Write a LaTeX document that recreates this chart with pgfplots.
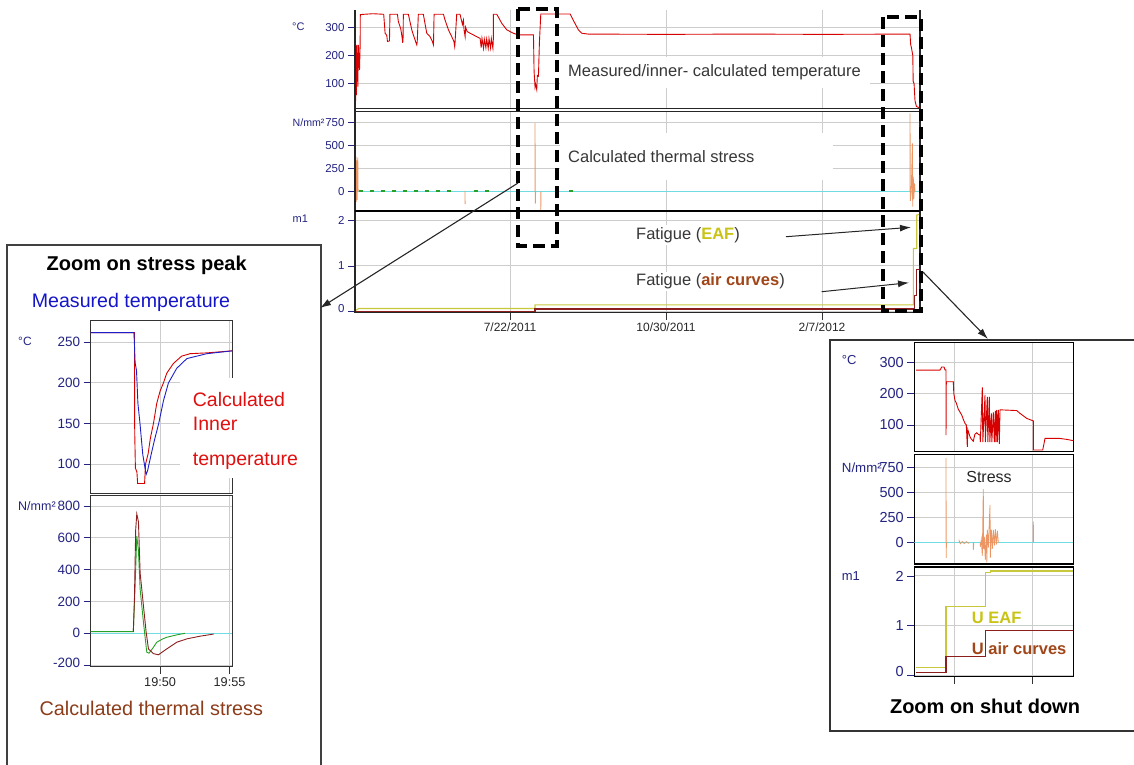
\documentclass[border=0pt]{standalone}
\usepackage{fontspec}
\setmainfont{Liberation Sans}
\usepackage{pgfplots}
\pgfplotsset{compat=1.18}
\usetikzlibrary{arrows.meta}

\definecolor{navy}{RGB}{35,35,130}
\definecolor{tred}{RGB}{215,0,0}
\definecolor{sorange}{RGB}{235,150,100}
\definecolor{scyan}{RGB}{110,220,225}
\definecolor{sgreen}{RGB}{40,160,40}
\definecolor{eaf}{RGB}{200,200,60}
\definecolor{eaftxt}{RGB}{200,195,20}
\definecolor{air}{RGB}{140,30,30}
\definecolor{airtxt}{RGB}{160,70,25}
\definecolor{stresstxt}{RGB}{140,60,25}
\definecolor{blueline}{RGB}{30,30,200}
\definecolor{bluetxt}{RGB}{20,20,200}
\definecolor{redtxt}{RGB}{225,15,15}
\definecolor{gridc}{RGB}{205,205,205}
\definecolor{annot}{RGB}{55,55,55}

\newcommand\fsz[1]{\fontsize{#1}{#1}\selectfont}

\pgfplotsset{
  panel/.style={
    scale only axis, anchor=north west,
    grid=major, major grid style={draw=gridc, line width=0.9pt},
    tick align=outside, major tick length=6pt,
    ytick pos=left, xtick pos=bottom,
    tick style={draw=navy, line width=0.8pt},
    /pgf/number format/assume math mode=true,
    y tick label style={text=navy},
    x tick label style={text=black!85},
    axis line style={line width=1.2pt},
    unbounded coords=jump,
  },
  mainpanel/.style={panel, width=565pt, xmin=-99.4, xmax=262.8,
    xtick={0,100,200}, axis line style={draw=none},
    y tick label style={font=\fsz{11.5}}, major tick length=7pt},
  leftpanel/.style={panel, width=141.6pt, xmin=45, xmax=55.2,
    xtick={50,55}, axis line style={draw=black!80, line width=1pt},
    y tick label style={font=\fsz{13.5}}, major tick length=7pt},
  rightpanel/.style={panel, width=159pt, xmin=0, xmax=159,
    xtick={40,118}, axis line style={draw=black, line width=1.1pt},
    y tick label style={font=\fsz{14.5}}, major tick length=7pt},
}

\begin{document}
\begin{tikzpicture}
\useasboundingbox (0,0) rectangle (1134pt,-764pt);
\clip (0,0) rectangle (1134pt,-764pt);

% zoom frames
\draw[draw=black!75, line width=1.3pt] (7pt,-245pt) rectangle (321pt,-775pt);
\draw[draw=black!80, line width=1.3pt] (830pt,-340pt) rectangle (1145pt,-731pt);

% ---------- main chart: temperature
\begin{axis}[mainpanel, at={(355pt,-10pt)}, height=98.7pt,
  ymin=12.3, ymax=361.1, ytick={100,200,300},
  xticklabels={}, xtick style={draw=none}]
\addplot[tred, line width=0.9pt] coordinates {
 (-99.4,22)(-99.2,230)(-99.0,40)(-98.8,235)(-98.5,60)(-98.2,238)(-97.6,90)(-97.2,238)
 (-96.5,150)(-96.1,238)(-96,345)(-88,348)(-81,346)(-80.1,279)(-79.5,275)(-79,270)
 (-78.6,250)(-77.3,252)(-77,346)(-72.2,346)(-71.6,320)(-70.1,295)(-69.5,275)(-69,255)
 (-68.8,245)(-68.6,262)(-68.4,346)(-65.2,346)(-63,291)(-62,273)(-60.9,256)(-60.3,245)
 (-59.8,238)(-59.5,250)(-58.8,346)(-55.6,346)(-53.4,279)(-51.3,267)(-49.8,250)(-49.1,238)
 (-48.7,346)(-42.7,346)(-41.7,326)(-39.5,291)(-37.4,267)(-36,250)(-35.5,232)(-35.3,244)
 (-34.2,346)(-32.1,346)(-30.5,310)(-29.9,325)(-29.5,291)(-28.8,267)(-28.5,300)(-27.5,285)
 (-25.6,279)(-21.4,267)(-19.2,261)(-18.5,228)(-18,261)(-17,226)(-16.5,258)(-15.5,228)
 (-15,258)(-14,226)(-13.5,260)(-12.5,227)(-12,260)(-11,226)(-10.7,261)(-10.7,346)
 (-8.5,346)(-5.3,314)(-2.1,291)(2.1,279)(5.3,273)(15,273)(15.4,144)(16,90)(16.3,100)
 (17.1,80)(17.5,130)(18.2,127)(18.8,244)(19.7,347)(38.5,347)(41,320)(43.8,291)(46,279)
 (50,276)(100,275)(150,276)(200,275)(256.4,276)(256.8,240)(257.4,225)(258.2,200)
 (258.4,110)(259,100)(259.6,40)(260.5,20)(262.8,15)};
\end{axis}

% ---------- main chart: stress
\begin{axis}[mainpanel, at={(355pt,-110.8pt)}, height=100.5pt,
  ymin=-213, ymax=879, ytick={0,250,500,750},
  xticklabels={}, xtick style={draw=none}]
\addplot[scyan, line width=1.4pt] coordinates {(-99.4,0)(262.8,0)};
\addplot[sgreen, line width=1.2pt, dash pattern=on 4pt off 7pt] coordinates {
 (-97,8)(-36,8)(-35,nan)(-23,8)(-9,8)(-8,nan)(38,8)(42,8)};
\addplot[sorange, line width=0.8pt] coordinates {
 (-99.2,0)(-99.2,360)(-99,-100)(-98.8,380)(-98.6,-110)(-98.3,340)(-98,-90)(-97.6,370)(-97.4,0)
 (-97,nan)(-28.9,10)(-28.8,-134)(-28,nan)
 (16,0)(16,744)(16.2,-130)(16.4,0)(17,nan)
 (19.7,0)(19.7,-199)(19.9,0)(20,nan)
 (256.4,0)(256.4,852)(256.6,-100)(257.2,0)(257.9,526)(258.1,-163)(258.5,163)(258.8,-80)(259.3,90)(259.6,0)};
\end{axis}

% ---------- main chart: fatigue
\begin{axis}[mainpanel, at={(355pt,-211.3pt)}, height=101.4pt,
  ymin=-0.022, ymax=2.192, ytick={0,1,2},
  yticklabels={\raisebox{6pt}{0},1,2},
  xticklabels={7/22/2011,10/30/2011,2/7/2012},
  x tick label style={font=\fsz{12}}, xtick style={draw=black!80}]
\addplot[eaf, line width=1.1pt] coordinates {
 (-99.4,0.02)(-97,0.07)(16,0.07)(16,0.15)(258.5,0.15)(258.5,1.38)(260.7,1.38)(260.7,2.11)(262.8,2.13)};
\addplot[air, line width=1.1pt] coordinates {
 (-99.4,0)(16,0)(16,0.06)(259,0.06)(259,0.36)(260.4,0.36)(260.4,0.93)(262.8,0.93)};
\end{axis}

% main frame lines
\draw[black!85, line width=1.1pt] (355pt,-10pt) -- (355pt,-312.7pt) -- (920pt,-312.7pt) -- (920pt,-10pt);
\draw[black!85, line width=1pt] (355pt,-108.7pt) -- (920pt,-108.7pt);
\draw[black!85, line width=1pt] (355pt,-111pt) -- (920pt,-111pt);
\draw[black, line width=1.8pt] (355pt,-211.3pt) -- (920pt,-211.3pt);

% main units
\node[anchor=west, text=navy, font=\fsz{11}, inner sep=0pt] at (292pt,-26.5pt) {°C};
\node[anchor=west, text=navy, font=\fsz{10.6}, inner sep=0pt] at (292.5pt,-123pt) {N/mm²};
\node[anchor=west, text=navy, font=\fsz{11}, inner sep=0pt] at (292.5pt,-219pt) {m1};

% main annotations
\fill[white] (560pt,-57pt) rectangle (870pt,-88pt);
\node[anchor=west, text=annot, font=\fsz{16.5}, inner sep=0pt] at (568pt,-72pt) {Measured/inner- calculated temperature};
\fill[white] (560pt,-133pt) rectangle (833pt,-180pt);
\node[anchor=west, text=annot, font=\fsz{16.5}, inner sep=0pt] at (568pt,-157pt) {Calculated thermal stress};
\node[anchor=west, text=annot, font=\fsz{16.5}, fill=white, inner sep=2pt] at (634pt,-235pt)
  {Fatigue (\textcolor{eaftxt}{\bfseries EAF})};
\node[anchor=west, text=annot, font=\fsz{16.5}, fill=white, inner sep=2pt] at (634pt,-281.5pt)
  {Fatigue (\textcolor{airtxt}{\bfseries air curves})};
\draw[black!85, line width=1pt, -{Latex[length=11pt,width=7pt]}] (786pt,-236.7pt) -- (911pt,-227.3pt);
\draw[black!85, line width=1pt, -{Latex[length=11pt,width=7pt]}] (821.7pt,-291.7pt) -- (909pt,-282.7pt);

% ---------- left zoom: temperature
\begin{axis}[leftpanel, at={(90.7pt,-320pt)}, height=173pt,
  ymin=64.3, ymax=277.5, ytick={100,150,200,250},
  xticklabels={}, xtick style={draw=none}]
\addplot[tred, line width=0.9pt] coordinates {
 (45,262)(48.15,262)(48.17,140)(48.22,95)(48.33,90)(48.38,76)(48.88,76)(48.95,100)
 (49.14,113)(49.3,132)(49.52,150)(49.76,175)(50,190)(50.24,200)(50.48,212)(50.96,224)
 (51.55,233)(52.16,236)(53.37,237)(55.2,239.5)};
\addplot[blueline, line width=0.9pt] coordinates {
 (45,262)(48.12,262)(48.2,225)(48.3,215)(48.4,175)(48.55,150)(48.75,112)(48.99,87)
 (49.1,92)(49.37,113)(49.6,130)(49.9,150)(50.24,178)(50.6,200)(51.2,218)(51.93,230)
 (53.37,236)(55.2,239.5)};
\end{axis}

% ---------- left zoom: stress
\begin{axis}[leftpanel, at={(90.7pt,-495.5pt)}, height=171.2pt,
  ymin=-210, ymax=865.6, ytick={-200,0,200,400,600,800},
  yticklabels={\raisebox{4pt}{-200},0,200,400,600,800},
  xticklabels={19:50,19:55}, x tick label style={font=\fsz{12.7}},
  xtick style={draw=black!80}]
\addplot[scyan, line width=1.4pt] coordinates {(45,0)(55.2,0)};
\addplot[sgreen, line width=0.9pt] coordinates {
 (45,10)(48.07,10)(48.2,300)(48.32,610)(48.44,520)(48.56,277)(48.8,69)(49.04,-119)
 (49.2,-125)(49.5,-90)(49.76,-56)(50.2,-35)(50.48,-25)(51.2,-10)(51.8,0)};
\addplot[air, line width=0.9pt] coordinates {
 (48.07,10)(48.15,215)(48.24,650)(48.32,750)(48.44,700)(48.56,380)(48.8,172)(48.99,10)
 (49.16,-98)(49.52,-128)(49.88,-135)(50.48,-98)(51.2,-56)(51.93,-35)(52.89,-18)(53.85,-5)};
\end{axis}

% left zoom texts
\fill[white] (180pt,-378pt) rectangle (305pt,-478pt);
\node[font=\fsz{20}\bfseries, text=black] at (146.7pt,-265pt) {Zoom on stress peak};
\node[font=\fsz{19.6}, text=bluetxt] at (131pt,-302.5pt) {Measured temperature};
\node[anchor=west, font=\fsz{19.5}, text=redtxt, inner sep=0pt] at (192.7pt,-400pt) {Calculated};
\node[anchor=west, font=\fsz{19.5}, text=redtxt, inner sep=0pt] at (192.7pt,-424.3pt) {Inner};
\node[anchor=west, font=\fsz{19.5}, text=redtxt, inner sep=0pt] at (192.7pt,-461pt) {temperature};
\node[font=\fsz{19.8}, text=stresstxt] at (151.3pt,-708.3pt) {Calculated thermal stress};
\node[anchor=west, text=navy, font=\fsz{12}, inner sep=0pt] at (18pt,-341.7pt) {°C};
\node[anchor=west, text=navy, font=\fsz{12.5}, inner sep=0pt] at (18pt,-506pt) {N/mm²};

% ---------- right zoom: temperature
\begin{axis}[rightpanel, at={(914.3pt,-342.7pt)}, height=108.8pt,
  ymin=15.3, ymax=362.6, ytick={100,200,300},
  xticklabels={}, xtick style={draw=none}]
\addplot[tred, line width=0.9pt] coordinates {
 (1.7,275)(25.7,275)(27.4,285)(29.7,285)(30.7,276)(31.7,276)(31.7,68)(32,238)(39,238)
 (39.5,200)(40.7,178)(42,170)(44,150)(45,145)(47.4,132)(49,118)(50.7,105)(52,100)(53,30)
 (53.5,85)(55.7,62)(57,55)(59,48)(60.5,70)(62.4,75)(64,70)(65.7,68)(66,45)(68,220)
 (68.5,45)(70.7,196)(71,45)(73,190)(73.5,45)(75,190)(75.5,45)(77,137)(77.5,45)(79,140)
 (80,45)(81,145)(81.5,45)(82.4,148)(83,45)(84,148)(85,40)(85.7,148)(88.4,148)(102.4,146)
 (105.7,137)(112.4,121)(119,113)(119,20)(128.4,20)(130.7,57)(145.7,57)(152.4,54)(159,50)};
\end{axis}

% ---------- right zoom: stress
\begin{axis}[rightpanel, at={(914.3pt,-454.3pt)}, height=109.7pt,
  ymin=-212, ymax=879, ytick={0,250,500,750},
  xticklabels={}, xtick style={draw=none}]
\addplot[scyan, line width=1.4pt] coordinates {(0,0)(159,0)};
\addplot[sorange, line width=0.8pt] coordinates {
 (31.7,0)(31.7,842)(31.9,-150)(32.1,0)(33,nan)
 (45,0)(45,15)(46,-10)(48,12)(50,-8)(52,10)(54,-5)(55,0)(56,nan)
 (59,0)(59,-70)(59.5,0)(60,nan)
 (66,0)(66,-40)(67,30)(68,-130)(69,532)(69.3,-60)(70,60)(71,-170)(72,80)(72.5,-195)
 (73,130)(74,-50)(75.7,375)(76,-150)(77,130)(78,-60)(79,127)(80,-30)(81,135)(82,-20)
 (83,120)(84,0)(85,nan)
 (119,0)(119,210)(119.2,0)};
\end{axis}

% ---------- right zoom: fatigue
\begin{axis}[rightpanel, at={(914.3pt,-567pt)}, height=109.7pt,
  ymin=-0.03, ymax=2.18, ytick={0,1,2},
  yticklabels={\raisebox{7pt}{0},1,2},
  xticklabels={}, xtick style={draw=black!80}]
\addplot[eaf, line width=1.1pt] coordinates {
 (1.7,0.15)(31.7,0.15)(31.7,1.38)(71.4,1.38)(71.4,2.07)(76,2.07)(76,2.1)(159,2.1)};
\addplot[air, line width=1.1pt] coordinates {
 (1.7,0.05)(31.7,0.05)(31.7,0.37)(71.4,0.37)(71.4,0.91)(159,0.91)};
\end{axis}

% right zoom texts
\node[font=\fsz{16}, text=black!85] at (989pt,-476.7pt) {Stress};
\node[anchor=west, font=\fsz{16.5}\bfseries, text=eaftxt, inner sep=0pt] at (971.7pt,-618.3pt) {U EAF};
\node[anchor=west, font=\fsz{16.5}\bfseries, text=airtxt, inner sep=0pt] at (971.7pt,-648.3pt) {U air curves};
\node[font=\fsz{20}\bfseries, text=black] at (985pt,-706.7pt) {Zoom on shut down};
\node[anchor=west, text=navy, font=\fsz{13}, inner sep=0pt] at (841.7pt,-360pt) {°C};
\node[anchor=west, text=navy, font=\fsz{13.3}, inner sep=0pt] at (841.7pt,-467.3pt) {N/mm²};
\node[anchor=west, text=navy, font=\fsz{13}, inner sep=0pt] at (841.7pt,-576pt) {m1};

% dashed zoom markers and connecting arrows
\draw[black, line width=3.5pt, dash pattern=on 12pt off 6pt] (518pt,-9pt) rectangle (557pt,-246pt);
\draw[black, line width=3.5pt, dash pattern=on 12pt off 6pt] (883pt,-17pt) rectangle (921pt,-311pt);
\draw[black!85, line width=1.1pt, -{Latex[length=11pt,width=7pt]}] (518pt,-183pt) -- (320pt,-308pt);
\draw[black!85, line width=1.1pt, -{Latex[length=11pt,width=7pt]}] (923pt,-272pt) -- (988pt,-339pt);
\end{tikzpicture}
\end{document}
